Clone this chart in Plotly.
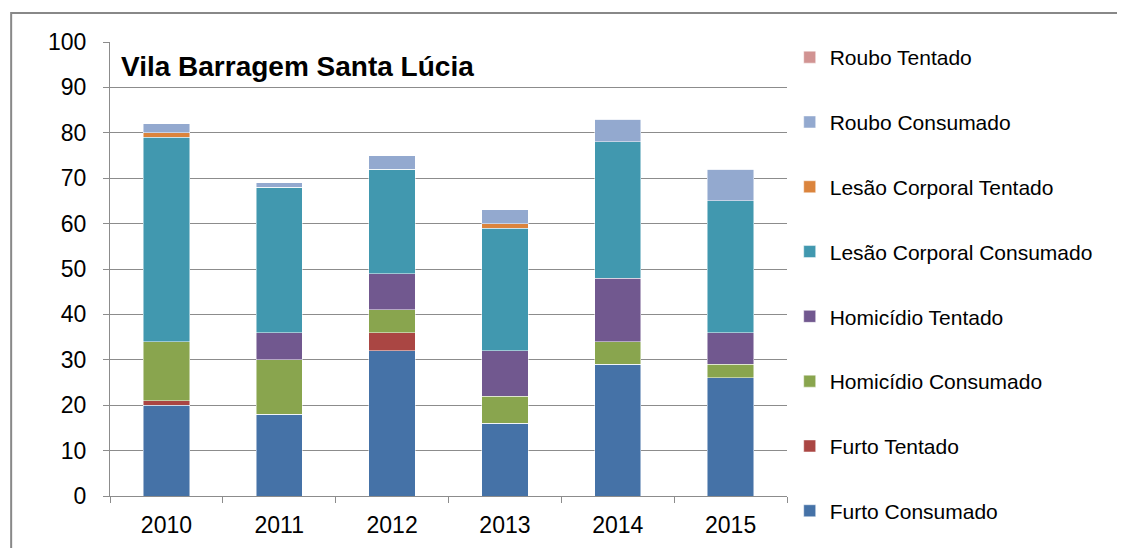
import plotly.graph_objects as go

years = ["2010", "2011", "2012", "2013", "2014", "2015"]

furto_consumado = [20, 18, 32, 16, 29, 26]
furto_tentado = [1, 0, 4, 0, 0, 0]
homicidio_consumado = [13, 12, 5, 6, 5, 3]
homicidio_tentado = [0, 6, 8, 10, 14, 7]
lesao_consumado = [45, 32, 23, 27, 30, 29]
lesao_tentado = [1, 0, 0, 1, 0, 0]
roubo_consumado = [2, 1, 3, 3, 5, 7]
roubo_tentado = [0, 0, 0, 0, 0, 0]

series = [
    ("Furto Consumado", furto_consumado, "#4572A7"),
    ("Furto Tentado", furto_tentado, "#AA4643"),
    ("Homicídio Consumado", homicidio_consumado, "#89A54E"),
    ("Homicídio Tentado", homicidio_tentado, "#71588F"),
    ("Lesão Corporal Consumado", lesao_consumado, "#4198AF"),
    ("Lesão Corporal Tentado", lesao_tentado, "#DB843D"),
    ("Roubo Consumado", roubo_consumado, "#93A9CF"),
    ("Roubo Tentado", roubo_tentado, "#D19392"),
]

FONT = "Liberation Sans, Arial, sans-serif"
GRID = "#8c8c8c"

fig = go.Figure()
for i, (name, vals, color) in enumerate(series):
    fig.add_trace(go.Bar(
        x=years, y=vals, name=name,
        marker=dict(color=color, line=dict(color="rgba(255,255,255,0.6)", width=0.8)),
        legendgroup=f"g{i}",
        legendrank=100 - i,  # top of stack listed first
    ))

# page body has an 8px margin, so offsets are trimmed by 8
fig.update_layout(
    barmode="stack",
    bargap=0.59,
    width=1125, height=548,
    margin=dict(l=102, r=346, t=34, b=60),
    paper_bgcolor="white",
    plot_bgcolor="white",
    font=dict(family=FONT, size=23, color="#000"),
    showlegend=True,
    legend=dict(
        x=1.004, xanchor="left", y=1.011, yanchor="top",
        traceorder="grouped", tracegroupgap=34.5,
        font=dict(family=FONT, size=21, color="#000"),
        itemwidth=30,
        maxheight=548,
        bgcolor="rgba(0,0,0,0)",
    ),
    xaxis=dict(
        showline=True, linecolor=GRID, linewidth=1,
        ticks="outside", tickson="boundaries", ticklen=6, tickcolor=GRID,
        tickfont=dict(size=23),
        ticklabelstandoff=8,
        showgrid=False,
    ),
    yaxis=dict(
        range=[0, 100], dtick=10,
        showline=True, linecolor=GRID, linewidth=1,
        ticks="outside", ticklen=6, tickcolor=GRID,
        showgrid=True, gridcolor=GRID, gridwidth=1,
        tickfont=dict(size=23),
        ticklabelstandoff=12,
        zeroline=False,
    ),
    annotations=[dict(
        text="<b>Vila Barragem Santa Lúcia</b>",
        xref="paper", yref="paper", x=0.013, y=0.945,
        xanchor="left", yanchor="middle", showarrow=False,
        font=dict(family=FONT, size=28, color="#000"),
    )],
    shapes=[dict(
        type="rect", xref="paper", yref="paper",
        x0=-0.146, x1=3, y0=-3, y1=1.064,
        line=dict(color="#888888", width=2), layer="below",
    )],
)

fig.write_html("out.html")
